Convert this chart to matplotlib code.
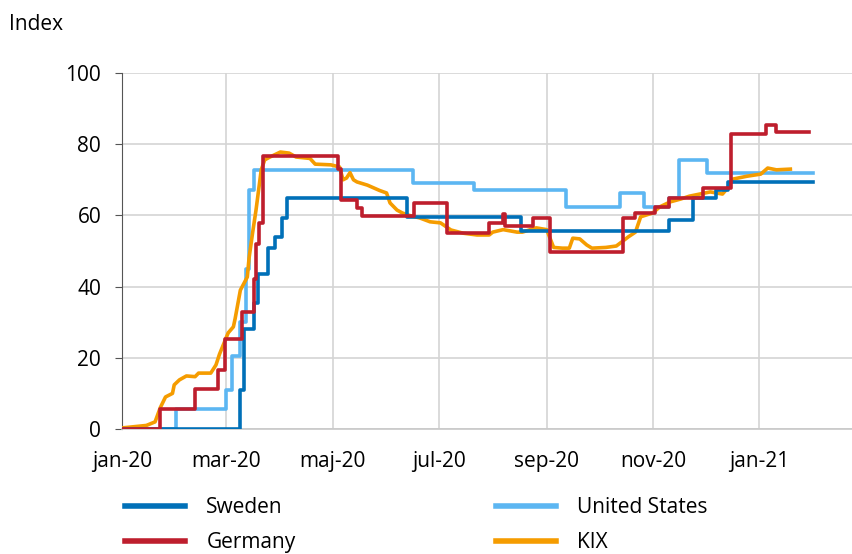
import pandas as pd
import matplotlib.pyplot as plt
from matplotlib.lines import Line2D

# stringency index, step series
sweden_dates = ['2020-01-01', '2020-03-09', '2020-03-11', '2020-03-17', '2020-03-19', '2020-03-25',
                '2020-03-29', '2020-04-02', '2020-04-05', '2020-06-13', '2020-08-17', '2020-11-10',
                '2020-11-24', '2020-12-07', '2020-12-14', '2021-02-01']
sweden_vals = [0, 11, 28, 35.4, 43.5, 50.8, 53.8, 59.3, 65, 59.5, 55.6, 58.6, 65, 67, 69.5, 69.5]

us_dates = ['2020-01-01', '2020-02-01', '2020-03-01', '2020-03-04', '2020-03-09', '2020-03-12',
            '2020-03-14', '2020-03-17', '2020-06-16', '2020-07-21', '2020-09-12', '2020-10-13',
            '2020-10-27', '2020-11-10', '2020-11-16', '2020-12-02', '2021-02-01']
us_vals = [0, 5.6, 11, 20.5, 30, 45, 67, 72.8, 69, 67, 62.5, 66.2, 62.4, 65, 75.5, 72, 72]

germany_dates = ['2020-01-01', '2020-01-23', '2020-02-12', '2020-02-25', '2020-02-29', '2020-03-10',
                 '2020-03-17', '2020-03-18', '2020-03-20', '2020-03-22', '2020-05-04', '2020-05-06',
                 '2020-05-15', '2020-05-18', '2020-06-17', '2020-07-06', '2020-07-30', '2020-08-07',
                 '2020-08-08', '2020-08-24', '2020-09-03', '2020-10-15', '2020-10-22', '2020-11-02',
                 '2020-11-10', '2020-11-30', '2020-12-16', '2021-01-05', '2021-01-11', '2021-01-30']
germany_vals = [0, 5.6, 11.2, 16.6, 25.3, 33, 42, 52, 58, 76.7, 73, 64.3, 62, 59.8, 63.5, 55,
                58, 60.5, 57, 59.3, 49.7, 59.3, 60.7, 62.4, 65, 67.7, 82.8, 85.4, 83.5, 83.5]

kix_dates = ['2020-01-01', '2020-01-15', '2020-01-20', '2020-01-23', '2020-01-26', '2020-01-30',
             '2020-01-31', '2020-02-03', '2020-02-07', '2020-02-12', '2020-02-14', '2020-02-21',
             '2020-02-24', '2020-02-26', '2020-03-02', '2020-03-05', '2020-03-06', '2020-03-09',
             '2020-03-13', '2020-03-14', '2020-03-16', '2020-03-18', '2020-03-21', '2020-03-23',
             '2020-03-26', '2020-04-01', '2020-04-06', '2020-04-10', '2020-04-18', '2020-04-21',
             '2020-04-30', '2020-05-05', '2020-05-07', '2020-05-09', '2020-05-11', '2020-05-13',
             '2020-05-15', '2020-05-21', '2020-05-28', '2020-06-01', '2020-06-03', '2020-06-07',
             '2020-06-10', '2020-06-14', '2020-06-20', '2020-06-26', '2020-07-02', '2020-07-08',
             '2020-07-15', '2020-07-23', '2020-07-30', '2020-08-01', '2020-08-07', '2020-08-15',
             '2020-08-18', '2020-08-26', '2020-09-01', '2020-09-05', '2020-09-10', '2020-09-14',
             '2020-09-16', '2020-09-20', '2020-09-24', '2020-09-27', '2020-10-05', '2020-10-11',
             '2020-10-14', '2020-10-18', '2020-10-22', '2020-10-25', '2020-11-01', '2020-11-05',
             '2020-11-11', '2020-11-17', '2020-11-22', '2020-11-28', '2020-12-04', '2020-12-11',
             '2020-12-14', '2020-12-17', '2020-12-25', '2021-01-02', '2021-01-06', '2021-01-11',
             '2021-01-19']
kix_vals = [0.3, 1, 2, 6, 9, 10, 12.4, 13.8, 14.9, 14.7, 15.7, 15.7, 18, 21, 27, 28.7, 31, 39,
            42.7, 48, 55, 61.5, 72.8, 75.6, 76.4, 77.8, 77.5, 76.4, 76, 74.4, 74.2, 73.6, 70,
            70.5, 72, 70, 69.4, 68.5, 67, 66.3, 63.5, 61.5, 60.7, 60, 59.3, 58.2, 57.9, 55.9,
            55, 54.5, 54.5, 55.3, 56, 55.3, 55.3, 56.5, 56, 51, 50.8, 50.8, 53.6, 53.4, 51.7,
            50.8, 51, 51.4, 52.5, 54, 55.3, 59.6, 60.7, 62.4, 63.8, 64.6, 65.4, 66, 66.6, 66,
            67.7, 70.2, 71, 71.6, 73.3, 72.8, 73]

tick_dates = ['2020-01-01', '2020-03-01', '2020-05-01', '2020-07-01', '2020-09-01', '2020-11-01', '2021-01-01']
tick_labels = ['jan-20', 'mar-20', 'maj-20', 'jul-20', 'sep-20', 'nov-20', 'jan-21']

colors = {'Sweden': '#0070b8', 'United States': '#5cb6f2', 'Germany': '#be1e2d', 'KIX': '#f59c00'}

plt.rcParams['font.family'] = ['Open Sans', 'DejaVu Sans']
plt.rcParams['font.size'] = 15

fig = plt.figure(figsize=(8.53, 5.54), dpi=100)
ax = fig.add_axes([122 / 853, 1 - 429 / 554, 1 - 122 / 853, (429 - 73) / 554])

lw = 2.6
ax.plot(pd.to_datetime(us_dates), us_vals, drawstyle='steps-post', color=colors['United States'], lw=lw, zorder=3)
ax.plot(pd.to_datetime(kix_dates), kix_vals, color=colors['KIX'], lw=lw, zorder=4)
ax.plot(pd.to_datetime(sweden_dates), sweden_vals, drawstyle='steps-post', color=colors['Sweden'], lw=lw, zorder=5)
ax.plot(pd.to_datetime(germany_dates), germany_vals, drawstyle='steps-post', color=colors['Germany'], lw=lw, zorder=6)

ax.set_xlim(pd.Timestamp('2020-01-01'), pd.Timestamp('2021-02-24'))
ax.set_ylim(0, 100)
ax.set_yticks([0, 20, 40, 60, 80, 100])
ax.set_xticks(pd.to_datetime(tick_dates))
ax.set_xticklabels(tick_labels)

ax.grid(True, color='#d4d4d4', lw=1.2)
ax.set_axisbelow(True)
for side in ['top', 'right']:
    ax.spines[side].set_visible(False)
ax.spines['left'].set_color('#555555')
ax.spines['bottom'].set_color('#c8c8c8')
ax.spines['bottom'].set_linewidth(1.2)
ax.tick_params(axis='y', length=5, color='#555555', pad=10)
ax.tick_params(axis='x', length=0, pad=16)

fig.text(9 / 853, 1 - 25 / 554, 'Index', va='center', ha='left')

handles = [Line2D([], [], color=colors[k], lw=4) for k in ['Sweden', 'Germany', 'United States', 'KIX']]
fig.legend(handles, ['Sweden', 'Germany', 'United States', 'KIX'], ncol=2, frameon=False,
           loc='upper left', bbox_to_anchor=(125 / 853, 1 - 497 / 554), borderpad=0, borderaxespad=0,
           handlelength=2.9, handletextpad=1.0, columnspacing=9.6, labelspacing=0.68)

fig.savefig('out.png', dpi=100)
